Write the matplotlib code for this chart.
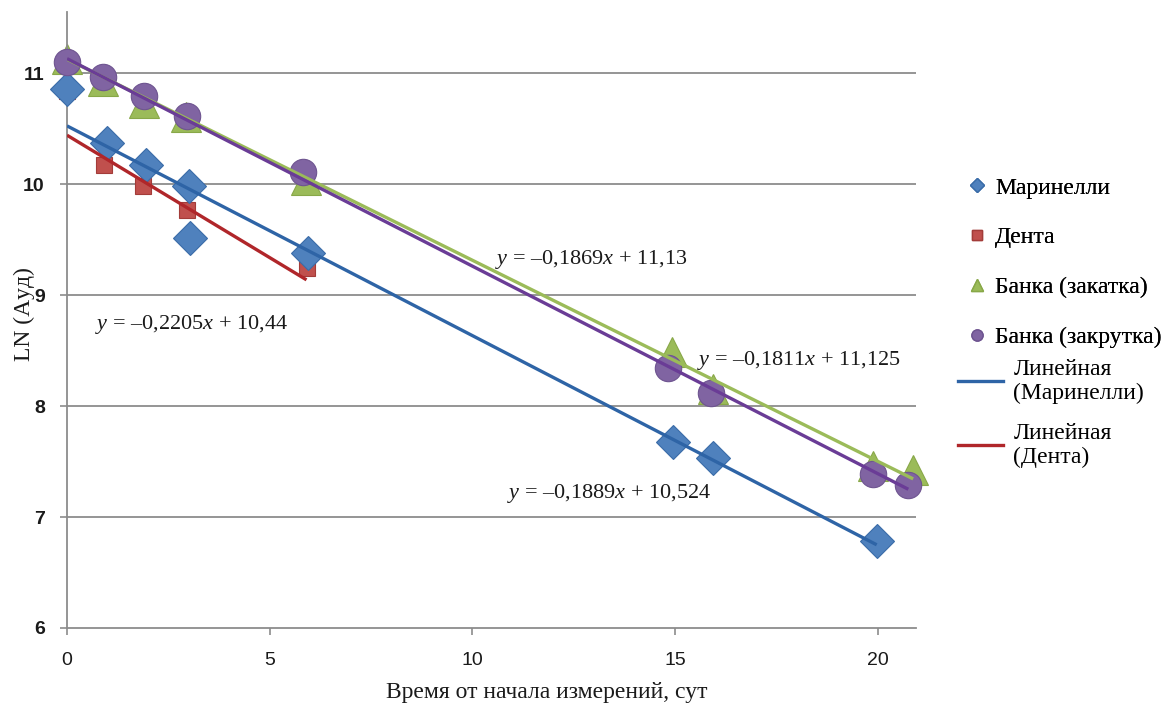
import matplotlib
matplotlib.use("Agg")
import matplotlib.pyplot as plt
from matplotlib.lines import Line2D
import numpy as np

plt.rcParams['mathtext.fontset'] = 'custom'
plt.rcParams['mathtext.rm'] = 'Liberation Serif'
plt.rcParams['mathtext.it'] = 'Liberation Serif:italic'

# ---- data ----
mar_x = [0.0, 0.98, 1.96, 3.01, 3.03, 5.95, 14.96, 15.95, 19.98]
mar_y = [10.86, 10.37, 10.17, 9.98, 9.51, 9.38, 7.68, 7.53, 6.78]

den_x = [0.0, 0.91, 1.88, 2.95, 5.91]
den_y = [10.84, 10.17, 9.98, 9.77, 9.24]

zak_x = [0.0, 0.89, 1.91, 2.93, 5.9, 14.92, 15.94, 19.9, 20.88]
zak_y = [11.13, 10.93, 10.73, 10.60, 10.04, 8.49, 8.15, 7.46, 7.42]

zkr_x = [0.0, 0.89, 1.91, 2.95, 5.83, 14.83, 15.9, 19.9, 20.76]
zkr_y = [11.10, 10.96, 10.79, 10.61, 10.11, 8.34, 8.12, 7.39, 7.29]

# trend line coefficients (slope, intercept)
mar_fit = (-0.1889, 10.524)
den_fit = (-0.2205, 10.44)
zak_fit = (-0.1811, 11.125)
zkr_fit = (-0.1869, 11.13)

labels = ["Маринелли", "Дента", "Банка (закатка)", "Банка (закрутка)",
          "Линейная\n(Маринелли)", "Линейная\n(Дента)"]

eq_texts = ["$y$ = –0,1869$x$ + 11,13", "$y$ = –0,2205$x$ + 10,44",
            "$y$ = –0,1811$x$ + 11,125", "$y$ = –0,1889$x$ + 10,524"]
eq_pos = [(10.55, 9.32), (0.68, 8.73), (15.55, 8.41), (10.85, 7.21)]

xticks = [0, 5, 10, 15, 20]
yticks = [6, 7, 8, 9, 10, 11]

# ---- colours ----
c_blue = '#4F81BD'
c_blue_l = '#2E64A6'
c_red = '#C0504D'
c_red_l = '#B0262A'
c_green = '#9BBB59'
c_purple = '#8064A2'
c_purple_l = '#6A3C96'

fig = plt.figure(figsize=(11.7, 7.04), dpi=100)
ax = fig.add_axes([67/1170, 1-628/704, (916-67)/1170, (628-12)/704])

ax.set_xlim(0, 20.95)
ax.set_ylim(6, 11.55)

for y in yticks[1:]:
    ax.axhline(y, color='#8c8c8c', lw=1.3, zorder=0)

# markers
ax.plot(den_x, den_y, 's', ms=12, color=c_red, mec='#A33C39', mew=0.8, zorder=2, clip_on=False)
ax.plot(mar_x, mar_y, 'D', ms=17, color=c_blue, mec='#3A6CA8', mew=0.8, zorder=3, clip_on=False)
ax.plot(zak_x, zak_y, '^', ms=21, color=c_green, mec='#88A848', mew=0.8, zorder=2, clip_on=False)
ax.plot(zkr_x, zkr_y, 'o', ms=19, color=c_purple, mec='#6E5490', mew=0.8, zorder=3, clip_on=False)

# trend lines
def trend(xs, fit, color):
    xx = np.array([min(xs), max(xs)])
    ax.plot(xx, fit[0]*xx + fit[1], '-', color=color, lw=2.4, zorder=5, solid_capstyle='butt')

trend(mar_x, mar_fit, c_blue_l)
trend(den_x, den_fit, c_red_l)
trend(zak_x, zak_fit, c_green)
trend(zkr_x, zkr_fit, c_purple_l)

for t, (px, py) in zip(eq_texts, eq_pos):
    ax.text(px, py, t, fontsize=16, family='Liberation Serif', color='#1a1a1a',
            ha='left', va='center', zorder=6)

# axes styling
for s in ['top', 'right']:
    ax.spines[s].set_visible(False)
for s in ['left', 'bottom']:
    ax.spines[s].set_color('#8c8c8c')
    ax.spines[s].set_linewidth(1.3)

ax.set_xticks(xticks)
ax.set_yticks(yticks)
ax.set_xticklabels([str(v) for v in xticks], family='Liberation Sans', fontsize=14)
ax.set_yticklabels([str(v) for v in yticks], family='Liberation Sans', fontsize=14, fontweight='bold')
ax.tick_params(axis='both', direction='out', length=5, color='#8c8c8c', width=1.2, labelcolor='#1a1a1a')
ax.tick_params(axis='x', pad=12)
ax.tick_params(axis='y', pad=11)

ax.set_xlabel("Время от начала измерений, сут", family='Liberation Serif', fontsize=17, color='#1a1a1a')
ax.xaxis.set_label_coords(0.565, -0.087)
ax.set_ylabel("LN (Аyд)", family='Liberation Serif', fontsize=17, color='#1a1a1a')
ax.yaxis.set_label_coords(-0.038, 0.51)

# legends
h1 = [Line2D([], [], ls='none', marker='D', ms=7, color=c_blue, mec='#3A6CA8'),
      Line2D([], [], ls='none', marker='s', ms=7, color=c_red, mec='#A33C39'),
      Line2D([], [], ls='none', marker='^', ms=9, color=c_green, mec='#88A848'),
      Line2D([], [], ls='none', marker='o', ms=8, color=c_purple, mec='#6E5490')]
leg1 = fig.legend(h1, labels[:4], loc='upper left', bbox_to_anchor=(968/1170, 1-177/704),
                  frameon=False, prop={'family': 'Liberation Serif', 'size': 17},
                  handlelength=0.8, handletextpad=0.35, labelspacing=1.2,
                  borderpad=0, borderaxespad=0)
h2 = [Line2D([], [], color=c_blue_l, lw=2.4), Line2D([], [], color=c_red_l, lw=2.4)]
leg2 = fig.legend(h2, labels[4:], loc='upper left', bbox_to_anchor=(958/1170, 1-359/704),
                  frameon=False, prop={'family': 'Liberation Serif', 'size': 17},
                  handlelength=1.9, handletextpad=0.45, labelspacing=0.77,
                  borderpad=0, borderaxespad=0)
fig.add_artist(leg1)

fig.savefig("out.png", dpi=100)
